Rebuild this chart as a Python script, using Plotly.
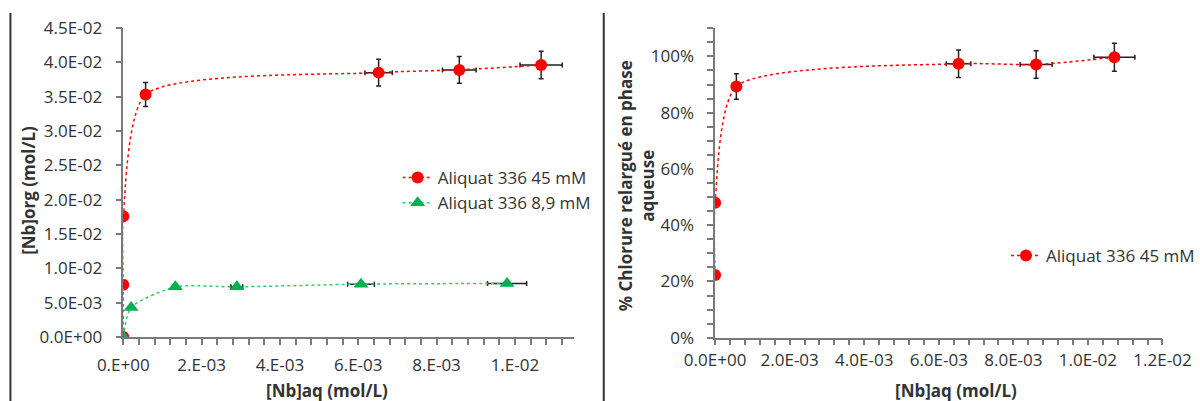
import plotly.graph_objects as go

# ---------------- data ----------------
# Left chart: [Nb]org vs [Nb]aq
red_x = [0.0, 0.0, 0.0, 0.00057, 0.00652, 0.00858, 0.01067]
red_y = [0.0, 0.0076, 0.0176, 0.0353, 0.0385, 0.0389, 0.0396]
red_ex = [0.0, 0.0, 0.0, 0.0, 0.00035, 0.00043, 0.00054]
red_ey = [0.0, 0.0, 0.0, 0.00175, 0.00194, 0.00194, 0.0020]

green_x = [0.0, 0.0002, 0.00133, 0.0029, 0.00607, 0.0098]
green_y = [0.0, 0.0043, 0.0073, 0.0073, 0.0077, 0.0078]
green_ex = [0.0, 0.0, 0.0, 0.00015, 0.00034, 0.0005]

left_xtick_vals = [0.0, 0.002, 0.004, 0.006, 0.008, 0.010]
left_xtick_text = ["0.E+00", "2.E-03", "4.E-03", "6.E-03", "8.E-03", "1.E-02"]
left_ytick_vals = [0.0, 0.005, 0.010, 0.015, 0.020, 0.025, 0.030, 0.035, 0.040, 0.045]
left_ytick_text = ["0.0E+00", "5.0E-03", "1.0E-02", "1.5E-02", "2.0E-02",
                   "2.5E-02", "3.0E-02", "3.5E-02", "4.0E-02", "4.5E-02"]

# Right chart: % chlorure relargué vs [Nb]aq
chl_x = [0.0, 0.0, 0.00057, 0.00653, 0.00861, 0.01071]
chl_y = [0.223, 0.480, 0.893, 0.974, 0.971, 0.997]
chl_ex = [0.0, 0.0, 0.0, 0.00033, 0.00043, 0.00055]
chl_ey = [0.0, 0.0, 0.045, 0.049, 0.049, 0.050]

right_xtick_vals = [0.0, 0.002, 0.004, 0.006, 0.008, 0.010, 0.012]
right_xtick_text = ["0.0E+00", "2.0E-03", "4.0E-03", "6.0E-03", "8.0E-03", "1.0E-02", "1.2E-02"]

# ---------------- styling ----------------
FONT = "Open Sans"
FS = 17
TXT = "#333333"
AX = "#7a7a7a"
RED = "#FF0000"
GREEN = "#00B050"
ERR = "#222222"
SMOOTH = 0.65

W, H = 1200, 401


def px(x):
    return x / W


def py(y):
    return (H - y) / H


fig = go.Figure()

fig.add_trace(go.Scatter(
    x=red_x, y=red_y, name="Aliquat 336 45 mM", mode="lines+markers",
    line=dict(color=RED, width=1.5, dash="dot", shape="spline", smoothing=SMOOTH),
    marker=dict(symbol="circle", size=12, color=RED),
    error_x=dict(type="data", array=red_ex, color=ERR, thickness=1.5, width=2.5),
    error_y=dict(type="data", array=red_ey, color=ERR, thickness=1.5, width=2.5),
    xaxis="x", yaxis="y", legend="legend", legendgroup="a",
))
fig.add_trace(go.Scatter(
    x=green_x, y=green_y, name="Aliquat 336 8,9 mM", mode="lines+markers",
    line=dict(color="#33CC66", width=1.5, dash="dot", shape="spline", smoothing=SMOOTH),
    marker=dict(symbol="triangle-up", size=13, color=GREEN),
    error_x=dict(type="data", array=green_ex, color=ERR, thickness=1.5, width=2.5),
    xaxis="x", yaxis="y", legend="legend", legendgroup="b",
))
fig.add_trace(go.Scatter(
    x=chl_x, y=chl_y, name="Aliquat 336 45 mM", mode="lines+markers",
    line=dict(color=RED, width=1.5, dash="dot", shape="spline", smoothing=SMOOTH),
    marker=dict(symbol="circle", size=12, color=RED),
    error_x=dict(type="data", array=chl_ex, color=ERR, thickness=1.5, width=2.5),
    error_y=dict(type="data", array=chl_ey, color=ERR, thickness=1.5, width=2.5),
    xaxis="x2", yaxis="y2", legend="legend2",
))

axis_common = dict(showgrid=False, zeroline=False, showline=True, linecolor=AX, linewidth=1.5,
                   ticks="outside", ticklen=6, tickcolor=AX, tickwidth=1.5, automargin=False,
                   tickfont=dict(family=FONT, size=FS, color=TXT))

fig.update_layout(
    width=W, height=H, autosize=False,
    margin=dict(l=0, r=0, t=0, b=0, pad=0),
    paper_bgcolor="white", plot_bgcolor="white",
    font=dict(family=FONT, size=FS, color=TXT),
    xaxis=dict(domain=[px(124), px(577)], range=[0, 0.0115], anchor="y",
               tickvals=left_xtick_vals, ticktext=left_xtick_text,
               minor=dict(dtick=0.0004, tick0=0, ticks="outside", ticklen=6, tickcolor=AX, tickwidth=1.5),
               ticklabelstandoff=6, **axis_common),
    yaxis=dict(domain=[py(337), py(28)], range=[0, 0.045], anchor="x",
               tickvals=left_ytick_vals, ticktext=left_ytick_text,
               ticklabelstandoff=10, **axis_common),
    xaxis2=dict(domain=[px(719.3), px(1169.3)], range=[0, 0.012], anchor="y2",
                tickvals=right_xtick_vals, ticktext=right_xtick_text,
                minor=dict(dtick=0.0004, tick0=0, ticks="outside", ticklen=6, tickcolor=AX, tickwidth=1.5),
                ticklabelstandoff=0, **axis_common),
    yaxis2=dict(domain=[py(337.7), py(28.3)], range=[0, 1.1], anchor="x2",
                dtick=0.2, tick0=0, tickformat=".0%",
                minor=dict(dtick=0.05, tick0=0, ticks="outside", ticklen=6, tickcolor=AX, tickwidth=1.5),
                ticklabelstandoff=10, **axis_common),
    legend=dict(x=px(400), y=py(160), xanchor="left", yanchor="top",
                bgcolor="rgba(0,0,0,0)", borderwidth=0, tracegroupgap=0,
                traceorder="grouped", itemwidth=30,
                font=dict(family=FONT, size=FS, color=TXT)),
    legend2=dict(x=px(1012), y=py(238), xanchor="left", yanchor="top",
                 bgcolor="rgba(0,0,0,0)", borderwidth=0, itemwidth=30,
                 font=dict(family=FONT, size=FS, color=TXT)),
    showlegend=True,
)

# axis titles
fig.add_annotation(text="<b>[Nb]org (mol/L)</b>", x=px(28), y=py(190), xref="paper", yref="paper",
                   textangle=-90, showarrow=False, xanchor="center", yanchor="middle",
                   font=dict(family=FONT, size=FS, color=TXT))
fig.add_annotation(text="<b>[Nb]aq (mol/L)</b>", x=px(329), y=py(390), xref="paper", yref="paper",
                   showarrow=False, xanchor="center", yanchor="middle",
                   font=dict(family=FONT, size=FS, color=TXT))
fig.add_annotation(text="<b>% Chlorure relargué en phase<br>aqueuse</b>", x=px(640), y=py(186),
                   xref="paper", yref="paper", textangle=-90, showarrow=False,
                   xanchor="center", yanchor="middle",
                   font=dict(family=FONT, size=FS, color=TXT))
fig.add_annotation(text="<b>[Nb]aq (mol/L)</b>", x=px(962), y=py(390), xref="paper", yref="paper",
                   showarrow=False, xanchor="center", yanchor="middle",
                   font=dict(family=FONT, size=FS, color=TXT))

# frame lines
for xl in (10.5, 607.3):
    fig.add_shape(type="line", xref="paper", yref="paper", x0=px(xl), x1=px(xl), y0=py(13), y1=0,
                  line=dict(color="#333333", width=2))

fig.write_html("out.html", config={"displayModeBar": False},
               post_script="document.body.style.margin='0';")
